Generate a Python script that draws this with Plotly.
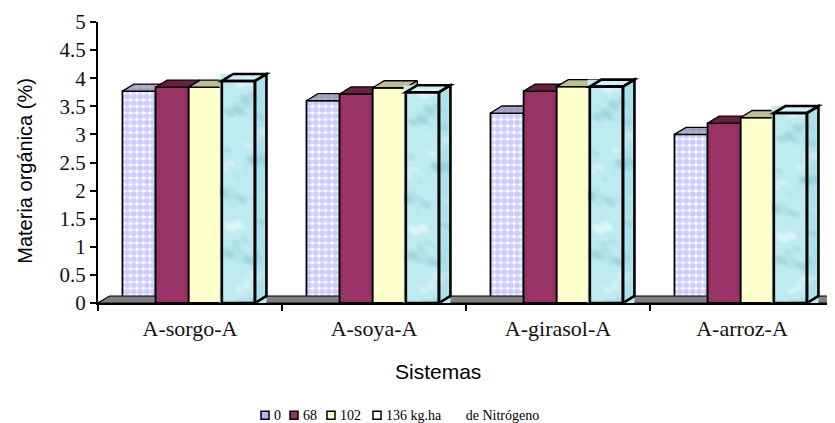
import base64, struct, zlib
import numpy as np
import plotly.graph_objects as go

categories = ["A-sorgo-A", "A-soya-A", "A-girasol-A", "A-arroz-A"]
series_names = ["0", "68", "102", "136 kg.ha" + "\u00a0" * 7 + "de Nitrógeno"]
v0 = [3.77, 3.6, 3.38, 3.0]
v68 = [3.84, 3.72, 3.77, 3.2]
v102 = [3.84, 3.83, 3.85, 3.3]
v136 = [3.95, 3.75, 3.85, 3.38]
values = [v0, v68, v102, v136]
y_ticks = [0, 0.5, 1, 1.5, 2, 2.5, 3, 3.5, 4, 4.5, 5]
y_ticktext = ["0", "0.5", "1", "1.5", "2", "2.5", "3", "3.5", "4", "4.5", "5"]

BAR_W, GROUP_L, DX, DY = 0.18, -0.367, 0.0625, 0.125
OUT = "#000000"
front = ["#ffffff", "#993366", "#ffffcc", "#b8e6ee"]
top_c = ["#a8a8c0", "#66223f", "#bdbd96", "rgba(255,255,255,0.25)"]
side_c = ["#c4c4f0", "#6e2549", "#b8b88e", "rgba(110,190,205,0.18)"]


def water_png(w=46, h=225):
    yy, xx = np.mgrid[0:h, 0:w].astype(float)
    n = (np.sin(xx * 0.07 + yy * 0.09) + np.sin(xx * 0.05 - yy * 0.13 + 1.3)
         + 0.7 * np.sin(xx * 0.17 + yy * 0.19 + 2.1) + 0.6 * np.sin(yy * 0.31 - xx * 0.08 + 0.4)
         + 0.35 * np.sin(xx * 0.45 - yy * 0.37 + 3.0))
    n = n / 3.65
    base = np.array([190, 234, 241.0])
    dark = np.array([-55, -35, -32.0])
    lite = np.array([45, 18, 12.0])
    t_d = np.clip(-n - 0.2, 0, 1)[..., None]
    t_l = np.clip(n - 0.3, 0, 1)[..., None]
    img = np.clip(base + dark * t_d * 1.1 + lite * t_l * 1.3, 0, 255).astype(np.uint8)
    raw = b"".join(b"\x00" + row.tobytes() for row in img)

    def chunk(tag, data):
        return struct.pack(">I", len(data)) + tag + data + struct.pack(">I", zlib.crc32(tag + data))
    return (b"\x89PNG\r\n\x1a\n" + chunk(b"IHDR", struct.pack(">IIBBBBB", w, h, 8, 2, 0, 0, 0))
            + chunk(b"IDAT", zlib.compress(raw)) + chunk(b"IEND", b""))


water = "data:image/png;base64," + base64.b64encode(water_png()).decode()

fig = go.Figure()
fig.add_trace(go.Scatter(x=categories, y=[0] * 4, mode="none", showlegend=False,
                         hoverinfo="skip", xaxis="x", yaxis="y"))
fig.add_trace(go.Scatter(x=[-0.5, 3.6, 3.6 + DX, -0.5 + DX, -0.5], y=[0, 0, DY, DY, 0],
                         mode="lines", fill="toself", fillcolor="#808080",
                         line=dict(color=OUT, width=1.2), showlegend=False,
                         hoverinfo="skip", xaxis="x2", yaxis="y"))


def path(px, py):
    return "M" + "L".join(f"{a},{b}" for a, b in zip(px, py)) + "Z"


shapes, images = [], []
for k, vals in enumerate(values):
    ax = f"x{k + 2}"
    marker = dict(color=front[k], line=dict(color=OUT, width=1.8))
    if k == 0:
        marker["pattern"] = dict(shape=".", fgcolor="#9999ff", bgcolor="#ffffff",
                                 size=6.5, solidity=0.7)
    xs = [i + GROUP_L + k * BAR_W + BAR_W / 2 for i in range(4)]
    fig.add_trace(go.Bar(x=xs, y=vals, width=BAR_W, marker=marker, name=series_names[k],
                         showlegend=False, xaxis=ax, yaxis="y"))
    for x, v in zip(xs, vals):
        l, r = x - BAR_W / 2, x + BAR_W / 2
        top_poly = ([l, r, r + DX, l + DX, l], [v, v, v + DY, v + DY, v])
        side_poly = ([r, r + DX, r + DX, r, r], [0, DY, v + DY, v, 0])
        if k < 3:
            for (px, py), col in ((top_poly, top_c[k]), (side_poly, side_c[k])):
                extra = {}
                if k == 0:
                    extra["fillpattern"] = dict(shape=".", fgcolor="#8888dd", bgcolor="#b4b4b4",
                                                size=6.5, solidity=0.6)
                fig.add_trace(go.Scatter(x=px, y=py, mode="lines", fill="toself", fillcolor=col,
                                         line=dict(color=OUT, width=1.3), showlegend=False,
                                         hoverinfo="skip", xaxis=ax, yaxis="y", **extra))
        else:
            images.append(dict(source=water, xref=ax, yref="y", x=l - 0.012, y=v + DY,
                               sizex=BAR_W + DX + 0.012, sizey=v + DY, sizing="stretch",
                               xanchor="left", yanchor="top", layer="above"))
            shapes.append(dict(type="path", xref=ax, yref="y", path=path(*side_poly),
                               fillcolor=side_c[k], line=dict(color=OUT, width=2.6), layer="above"))
            shapes.append(dict(type="path", xref=ax, yref="y", path=path(*top_poly),
                               fillcolor=top_c[k], line=dict(color=OUT, width=2.6), layer="above"))
            shapes.append(dict(type="rect", xref=ax, yref="y", x0=l, x1=r, y0=0, y1=v,
                               fillcolor="rgba(0,0,0,0)", line=dict(color=OUT, width=2.6), layer="above"))

layout_axes = {}
for k in range(4):
    layout_axes[f"xaxis{k + 2}"] = dict(overlaying="x", range=[-0.5, 3.5], visible=False,
                                        type="linear", fixedrange=True)

# page has an 8 px body margin; figure occupies 827 x 415 from (8, 8)
PL, PR, PT, PB = 98, 834, 22, 303.5
fig.update_layout(
    width=827, height=415, autosize=False,
    margin=dict(l=PL - 8, r=835 - PR, t=PT - 8, b=423 - PB, pad=0),
    paper_bgcolor="white", plot_bgcolor="white",
    barmode="overlay", showlegend=False,
    font=dict(family="Liberation Serif", color="#000000"),
    xaxis=dict(type="category", categoryarray=categories, categoryorder="array",
               range=[-0.5, 3.5], tickson="boundaries", ticks="outside", ticklen=6,
               tickwidth=1.5, tickcolor="#000", showline=True, linecolor="#000", linewidth=1.5,
               showgrid=False, zeroline=False, ticklabelstandoff=5,
               tickfont=dict(family="Liberation Serif", size=22, color="#111")),
    yaxis=dict(range=[0, 5], tickvals=y_ticks, ticktext=y_ticktext, ticks="outside", ticklen=6,
               tickwidth=1.5, tickcolor="#000", showline=True, linecolor="#000", linewidth=2,
               showgrid=False, zeroline=False,
               tickfont=dict(family="Liberation Serif", size=21, color="#111")),
    images=images,
    shapes=shapes,
    **layout_axes,
)

px_x = lambda p: (p - PL) / (PR - PL)
px_y = lambda p: 1 - (p - PT) / (PB - PT)
fig.add_annotation(xref="paper", yref="paper", x=px_x(438), y=px_y(372), text="Sistemas",
                   showarrow=False, xanchor="center", yanchor="middle",
                   font=dict(family="Liberation Sans", size=21, color="#000"))
fig.add_annotation(xref="paper", yref="paper", x=px_x(25), y=px_y(171), text="Materia orgánica (%)",
                   showarrow=False, xanchor="center", yanchor="middle", textangle=-90,
                   font=dict(family="Liberation Sans", size=20, color="#000"))

leg_x = [261, 290, 327, 373]
swatch = ["#b4b4ff", "#993366", "#ffffcc", "#ffffff"]
for x0, name, c in zip(leg_x, series_names, swatch):
    fig.add_shape(type="rect", xref="paper", yref="paper", x0=px_x(x0), x1=px_x(x0 + 8),
                  y0=px_y(420), y1=px_y(412), fillcolor=c, line=dict(color=OUT, width=1.5))
    fig.add_annotation(xref="paper", yref="paper", x=px_x(x0 + 11), y=px_y(416), text=name,
                       showarrow=False, xanchor="left", yanchor="middle",
                       font=dict(family="Liberation Serif", size=14, color="#000"))

fig.write_html("out.html")
